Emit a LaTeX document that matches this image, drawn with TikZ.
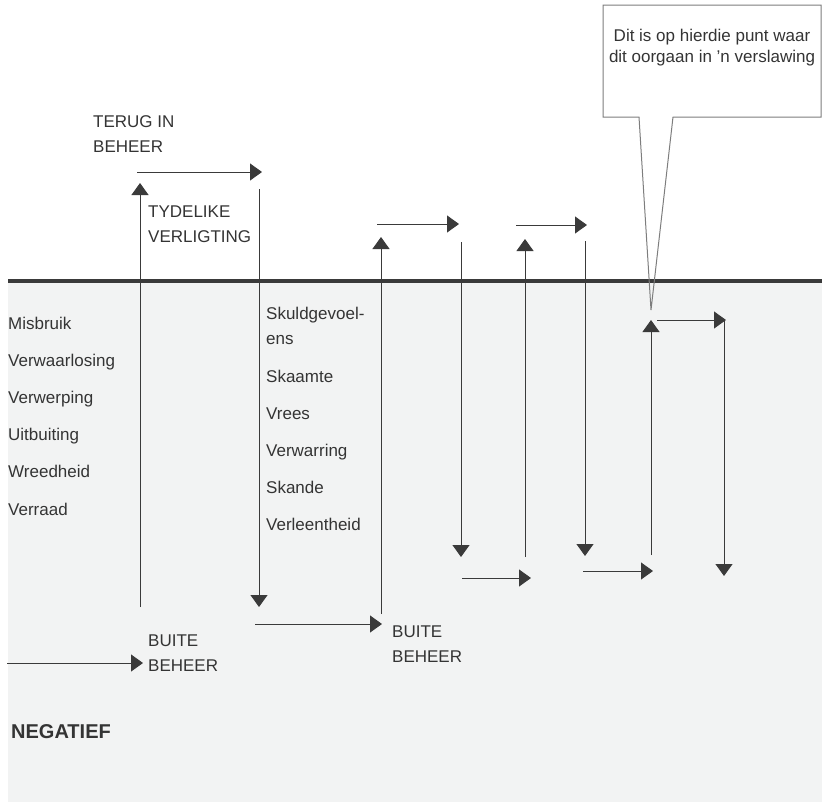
\documentclass[tikz,border=0pt]{standalone}
\usepackage{fontspec}
\setmainfont{Liberation Sans}
\usetikzlibrary{arrows.meta}

\begin{document}
\begin{tikzpicture}[x=1pt,y=-1pt,
  lbl/.style={anchor=base west,inner sep=0pt,text=txt,align=left,
    font=\fontsize{17}{25}\selectfont},
  flow/.style={draw=ln,line width=1pt,-{Triangle[width=17pt,length=12pt]}}]
% Colours
\definecolor{ln}{RGB}{58,58,58}
\definecolor{txt}{RGB}{52,52,52}
\definecolor{bg}{RGB}{242,243,243}
\definecolor{box}{RGB}{125,125,125}

\useasboundingbox (0,0) rectangle (822,803);

% Negative zone and the dividing line
\fill[bg] (8,282) rectangle (822,802);
\draw[ln,line width=4pt] (8,281) -- (822,281);

% Zig-zag of arrows (start x/y, end x/y)
\foreach \n/\sx/\sy/\ex/\ey in {
    1/7/663/143/663,     2/140/607/140/183,   3/137/172/262/172,
    4/259/189/259/607,   5/255/624/382/624,   6/381/614/381/237,
    7/377/224/459/224,   8/461/242/461/557,   9/462/578/531/578,
    10/525/557/525/239,  11/516/225/587/225,  12/585/241/585/556,
    13/583/571/653/571,  14/651/555/651/320,  15/657/320/726/320,
    16/724/320/724/576} {
  \coordinate (s\n) at (\sx,\sy);
  \coordinate (e\n) at (\ex,\ey);
  \draw[flow] (s\n) -- (e\n);
}

% Labels above the line (anchor = baseline of last line)
\node[lbl] (terug) at (93,152) {TERUG IN\\BEHEER};
\node[lbl] (verligting) at (148,242) {TYDELIKE\\VERLIGTING};

% Left list
\foreach \w [count=\i] in {Misbruik,Verwaarlosing,Verwerping,Uitbuiting,Wreedheid,Verraad} {
  \node[lbl] (neg\i) at (8,{329+37.2*(\i-1)}) {\w};
}

% Middle list
\node[lbl] (skuld) at (266,344) {Skuldgevoel-\\ens};
\foreach \w [count=\i] in {Skaamte,Vrees,Verwarring,Skande,Verleentheid} {
  \node[lbl] (gev\i) at (266,{382+37.2*(\i-1)}) {\w};
}

% Out of control
\node[lbl] (buite1) at (148,671) {BUITE\\BEHEER};
\node[lbl] (buite2) at (392,662) {BUITE\\BEHEER};
\node[lbl,font=\fontsize{20}{24}\bfseries] (negatief) at (11,738) {NEGATIEF};

% Callout
\draw[box,line width=1pt] (603,5) -- (821,5) -- (821,117) -- (673,117)
  -- (651,310) -- (639,117) -- (603,117) -- cycle;
\node[lbl,anchor=base,align=center,font=\fontsize{17}{21}\selectfont] (note) at (712,62)
  {Dit is op hierdie punt waar\\dit oorgaan in 'n verslawing};

\end{tikzpicture}
\end{document}
